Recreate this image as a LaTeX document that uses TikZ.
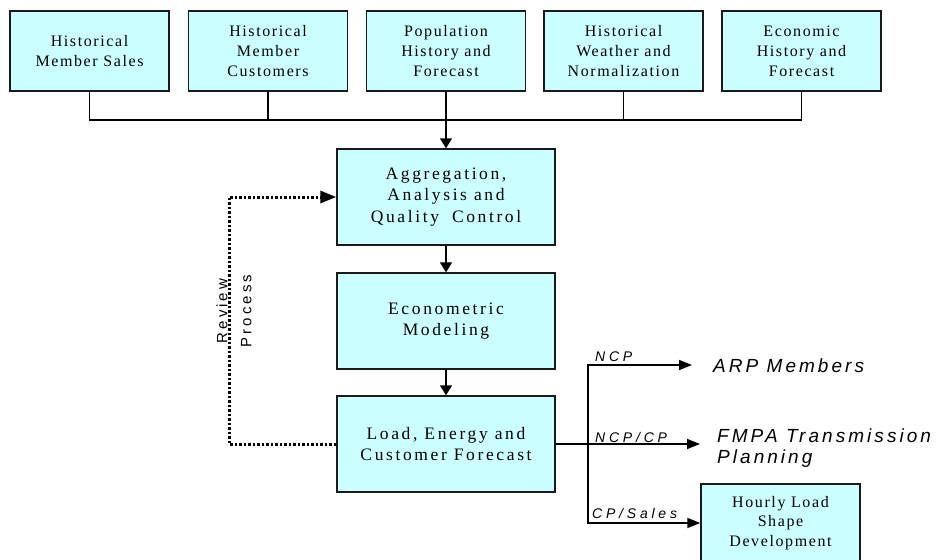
\documentclass[tikz,border=0pt]{standalone}
\usepackage{fontspec}
\setmainfont{Liberation Serif}
\newfontfamily\topfont[LetterSpace=10]{Liberation Serif}
\newfontfamily\midfont[LetterSpace=15]{Liberation Serif}
\newfontfamily\flowfont[LetterSpace=27]{Liberation Sans}
\newfontfamily\destfont[LetterSpace=16]{Liberation Sans}
\newfontfamily\revfont[LetterSpace=20]{Liberation Sans}
\usetikzlibrary{arrows.meta}
\definecolor{boxcyan}{HTML}{CCFFFF}
\definecolor{boxline}{HTML}{1A1A1A}
\tikzset{
  topbox/.style={draw=boxline, line width=1.4pt, fill=boxcyan,
    minimum width=159pt, minimum height=80pt, align=center, inner sep=0pt,
    font=\topfont\fontsize{16}{20}\selectfont},
  midbox/.style={topbox, minimum width=218pt, minimum height=96pt,
    font=\midfont\fontsize{17.5}{21.5}\selectfont},
  hourbox/.style={topbox, minimum height=78pt,
    font=\topfont\fontsize{16}{19.3}\selectfont},
  conn/.style={draw=black, line width=1.5pt},
  varr/.style={conn, -{Triangle[length=10pt,width=12pt]}},
  harr/.style={conn, -{Triangle[length=13pt,width=10pt]}},
  dotline/.style={draw=black, line width=3pt, dash pattern=on 2.6pt off 1.9pt,
    -{Triangle[length=16pt,width=12pt]}},
  flowlbl/.style={font=\flowfont\itshape\fontsize{14}{16}\selectfont,
    inner sep=0pt, anchor=base west},
  destlbl/.style={font=\destfont\itshape\fontsize{19}{21}\selectfont,
    inner sep=0pt, align=left},
  revlbl/.style={font=\revfont\fontsize{15}{24}\selectfont, inner sep=0pt,
    align=center, rotate=90}
}
\begin{document}
\begin{tikzpicture}[x=1pt,y=-1pt]
\useasboundingbox (0,0) rectangle (938,560);
% top row
\node[topbox] (t1) at (89.5,51) {Historical\\Member Sales};
\node[topbox] (t2) at (268,51) {Historical\\Member\\Customers};
\node[topbox] (t3) at (446,51) {Population\\History and\\Forecast};
\node[topbox] (t4) at (623.5,51) {Historical\\Weather and\\Normalization};
\node[topbox] (t5) at (801.5,51) {Economic\\History and\\Forecast};
% middle column
\node[midbox] (agg) at (446,197) {Aggregation,\\Analysis and\\Quality\hspace{6pt} Control};
\node[midbox] (eco) at (446,321) {Econometric\\Modeling};
\node[midbox] (load) at (446,444) {Load, Energy and\\Customer Forecast};
\node[hourbox] (hour) at (780.5,523) {Hourly Load\\Shape\\Development};
% bus
\coordinate (bus) at (446,120);
\draw[conn] (t1.south) |- (bus) -| (t5.south);
\draw[conn] (t2.south) -- (t2.south |- bus);
\draw[conn] (t4.south) -- (t4.south |- bus);
\draw[varr] (t3.south) -- (agg.north);
\draw[varr] (agg.south) -- (eco.north);
\draw[varr] (eco.south) -- (load.north);
% review loop
\coordinate (revx) at (229,320);
\draw[dotline] (load.west) -| (revx) |- (agg.west);
\node[revlbl] (rev) at (234,311) {Review\\Process};
% outputs
\coordinate (split) at (588,444);
\coordinate (arptip) at (692,365);
\coordinate (fmpatip) at (700,444);
\draw[harr] (load.east) -- (fmpatip);
\draw[harr] (split) |- (arptip);
\draw[harr] (split) |- (hour.west);
\node[flowlbl] (lncp) at (595,361) {NCP};
\node[flowlbl] (lncpcp) at (595,442) {NCP/CP};
\node[flowlbl] (lcps) at (592,518) {CP/Sales};
\node[destlbl, anchor=base west] (arp) at (713,372) {ARP Members};
\node[destlbl, anchor=north west] (fmpa) at (717,428.5) {FMPA Transmission\\Planning};
\end{tikzpicture}
\end{document}
